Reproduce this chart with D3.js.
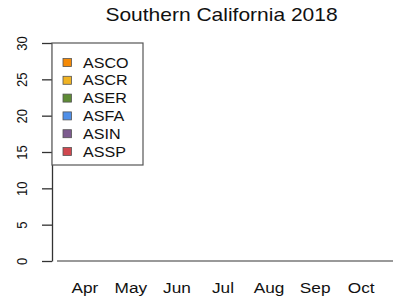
<!DOCTYPE html>
<html>
<head>
<meta charset="utf-8">
<script src="https://cdn.jsdelivr.net/npm/d3@7"></script>
<style>
  body { margin: 0; background: #fff; }
  text { font-family: "Liberation Sans", Arial, sans-serif; fill: #111; }
</style>
</head>
<body>
<div id="chart"></div>
<script>
// Data
var months = ["Apr", "May", "Jun", "Jul", "Aug", "Sep", "Oct"];
var species = ["ASCO", "ASCR", "ASER", "ASFA", "ASIN", "ASSP"];
var colors = ["#f58a07", "#f0b323", "#5e8b35", "#4f8fe8", "#7d5b8f", "#d0484f"];
// counts per species per month (none recorded)
var ASCO = [0, 0, 0, 0, 0, 0, 0];
var ASCR = [0, 0, 0, 0, 0, 0, 0];
var ASER = [0, 0, 0, 0, 0, 0, 0];
var ASFA = [0, 0, 0, 0, 0, 0, 0];
var ASIN = [0, 0, 0, 0, 0, 0, 0];
var ASSP = [0, 0, 0, 0, 0, 0, 0];
var yTicks = [0, 5, 10, 15, 20, 25, 30];

var svgWidth = 393;
var svgHeight = 306;
var stretch = 1.15; // the picture is a bit wider than tall

var svg = d3.select("#chart")
    .append("svg")
    .attr("width", svgWidth)
    .attr("height", svgHeight);

// build table for stacking
var series = [ASCO, ASCR, ASER, ASFA, ASIN, ASSP];
var table = months.map(function(m, i) {
    var row = { month: m };
    species.forEach(function(s, j) { row[s] = series[j][i]; });
    return row;
});
var stacked = d3.stack().keys(species)(table);

// Scales
var xScale = d3.scaleBand()
    .domain(months)
    .range([61, 385])
    .paddingInner(0.2 / 1.2)
    .paddingOuter(0.1);

var yScale = d3.scaleLinear()
    .domain([0, 30])
    .range([261, 43]);

// Title
svg.append("g")
    .attr("transform", "translate(221.5, 21) scale(1.2, 1)")
    .append("text")
    .attr("text-anchor", "middle")
    .style("font-size", "17.5px")
    .text("Southern California 2018");

// Bars (stacked)
svg.selectAll("g.layer")
    .data(stacked)
    .enter()
    .append("g")
    .attr("class", "layer")
    .attr("fill", function(d, i) { return colors[i]; })
    .selectAll("rect")
    .data(function(d) { return d; })
    .enter()
    .append("rect")
    .attr("x", function(d) { return xScale(d.data.month); })
    .attr("y", function(d) { return yScale(d[1]); })
    .attr("width", xScale.bandwidth())
    .attr("height", function(d) { return yScale(d[0]) - yScale(d[1]); });

// Baseline at zero
svg.append("line")
    .attr("x1", 57)
    .attr("x2", svgWidth)
    .attr("y1", yScale(0))
    .attr("y2", yScale(0))
    .attr("stroke", "#777")
    .attr("stroke-width", 1.5);

// Y axis
var leftAxis = d3.axisLeft(yScale)
    .tickValues(yTicks)
    .tickSize(10)
    .tickSizeOuter(0)
    .tickPadding(3);

var yAxis = svg.append("g")
    .attr("transform", "translate(52, 0)")
    .call(leftAxis);

yAxis.select(".domain").attr("stroke", "#333").attr("stroke-width", 1.3);
yAxis.selectAll(".tick line").attr("stroke", "#333").attr("stroke-width", 1.3);
yAxis.selectAll(".tick text")
    .attr("x", 0)
    .attr("dy", 0)
    .attr("transform", "translate(-30, 0) scale(" + stretch + ", 1) rotate(-90)")
    .attr("text-anchor", "middle")
    .attr("dominant-baseline", "central")
    .style("font-size", "13px")
    .style("font-family", "Liberation Sans, Arial, sans-serif")
    .attr("fill", "#111");

// Month labels
svg.selectAll("g.month")
    .data(months)
    .enter()
    .append("g")
    .attr("class", "month")
    .attr("transform", function(d) {
        return "translate(" + (xScale(d) + xScale.bandwidth() / 2) + ", 293) scale(" + stretch + ", 1)";
    })
    .append("text")
    .attr("text-anchor", "middle")
    .style("font-size", "15px")
    .text(function(d) { return d; });

// Legend
var legend = svg.append("g").attr("transform", "translate(52, 43)");

legend.append("rect")
    .attr("x", 0)
    .attr("y", 0)
    .attr("width", 91)
    .attr("height", 122)
    .attr("fill", "#fff")
    .attr("stroke", "#555")
    .attr("stroke-width", 1.2);

var items = legend.selectAll("g.item")
    .data(species)
    .enter()
    .append("g")
    .attr("class", "item")
    .attr("transform", function(d, i) { return "translate(0," + (19.5 + i * 17.8) + ")"; });

items.append("rect")
    .attr("x", 11)
    .attr("y", -4)
    .attr("width", 8.5)
    .attr("height", 8)
    .attr("fill", function(d, i) { return colors[i]; })
    .attr("stroke", "#555")
    .attr("stroke-width", 0.8);

items.append("g")
    .attr("transform", "translate(31, 5) scale(" + stretch + ", 1)")
    .append("text")
    .style("font-size", "14px")
    .text(function(d) { return d; });
</script>
</body>
</html>
